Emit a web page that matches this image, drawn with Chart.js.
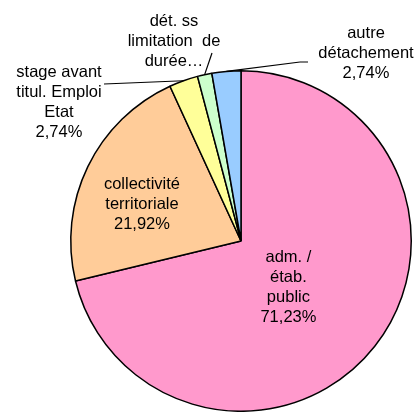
<!DOCTYPE html>
<html lang="fr">
<head>
    <meta charset="UTF-8">
    <title>Répartition</title>
    <script src="https://cdn.jsdelivr.net/npm/chart.js@4.4.1/dist/chart.umd.min.js"></script>
    <style>
        html, body {
            margin: 0;
            padding: 0;
            background: #ffffff;
        }
        #wrap {
            width: 419px;
            height: 412px;
        }
    </style>
</head>
<body>
    <div id="wrap"><canvas id="pie" width="419" height="412"></canvas></div>

    <script>
        // data
        var categories = [
            ['adm. /', 'étab.', 'public'],
            ['collectivité', 'territoriale'],
            ['stage avant', 'titul. Emploi', 'Etat'],
            ['dét. ss', 'limitation  de', 'durée…'],
            ['autre', 'détachement']
        ];
        var shares = [71.23, 21.92, 2.74, 1.37, 2.74];
        var showPct = [true, true, true, false, true];
        var sliceColors = ['#FF99CC', '#FFCC99', '#FFFF99', '#CCFFCC', '#99CCFF'];

        var FONT = '16.5px "Liberation Sans", Arial, sans-serif';
        var LINE_H = 20;

        // where each label sits: inside ones by angle nudge + radius fraction,
        // outside ones by text centre and the start of the leader line
        var labelPlace = [
            { inside: true, nudge: 6.2, frac: 0.39 },
            { inside: true, nudge: -5.6, frac: 0.62 },
            { inside: false, tx: 59, ty: 72, lx: 104, ly: 84 },
            { inside: false, tx: 174, ty: 21, lx: 212, ly: 53 },
            { inside: false, tx: 366, ty: 33, lx: 308, ly: 62, hook: 300 }
        ];

        function fmt(v) {
            return v.toFixed(2).replace('.', ',') + '%';
        }

        var sliceLabels = {
            id: 'sliceLabels',
            afterDatasetsDraw: function (chart) {
                var ctx = chart.ctx;
                var arcs = chart.getDatasetMeta(0).data;
                ctx.save();
                ctx.font = FONT;
                ctx.fillStyle = '#000';
                ctx.textAlign = 'center';
                ctx.textBaseline = 'middle';
                arcs.forEach(function (arc, i) {
                    var p = arc.getProps(['x', 'y', 'startAngle', 'endAngle', 'outerRadius'], true);
                    var mid = (p.startAngle + p.endAngle) / 2;
                    var lines = categories[i].slice();
                    if (showPct[i]) lines.push(fmt(shares[i]));
                    var place = labelPlace[i];
                    var cx, cy;
                    if (place.inside) {
                        var a = mid + place.nudge * Math.PI / 180;
                        var r = p.outerRadius * place.frac;
                        cx = p.x + Math.cos(a) * r;
                        cy = p.y + Math.sin(a) * r - (lines.length - 1) * LINE_H / 2;
                    } else {
                        cx = place.tx;
                        cy = place.ty;
                        var ex = p.x + Math.cos(mid) * p.outerRadius;
                        var ey = p.y + Math.sin(mid) * p.outerRadius;
                        ctx.beginPath();
                        ctx.strokeStyle = '#000';
                        ctx.lineWidth = 1.2;
                        if (place.hook) {
                            ctx.moveTo(place.hook, place.ly);
                            ctx.lineTo(place.lx, place.ly);
                            ctx.moveTo(place.hook, place.ly);
                        } else {
                            ctx.moveTo(place.lx, place.ly);
                        }
                        ctx.lineTo(ex, ey);
                        ctx.stroke();
                    }
                    lines.forEach(function (t, k) {
                        ctx.fillText(t, cx, cy + k * LINE_H);
                    });
                });
                ctx.restore();
            }
        };

        new Chart(document.getElementById('pie'), {
            type: 'pie',
            data: {
                labels: categories.map(function (c) { return c.join(' '); }),
                datasets: [{
                    data: shares,
                    backgroundColor: sliceColors,
                    borderColor: '#000',
                    borderWidth: 1.5
                }]
            },
            options: {
                responsive: false,
                devicePixelRatio: 1,
                animation: false,
                layout: { padding: { left: 70, right: 7, top: 70, bottom: 0 } },
                plugins: {
                    legend: { display: false },
                    tooltip: { enabled: false }
                }
            },
            plugins: [sliceLabels]
        });
    </script>
</body>
</html>
